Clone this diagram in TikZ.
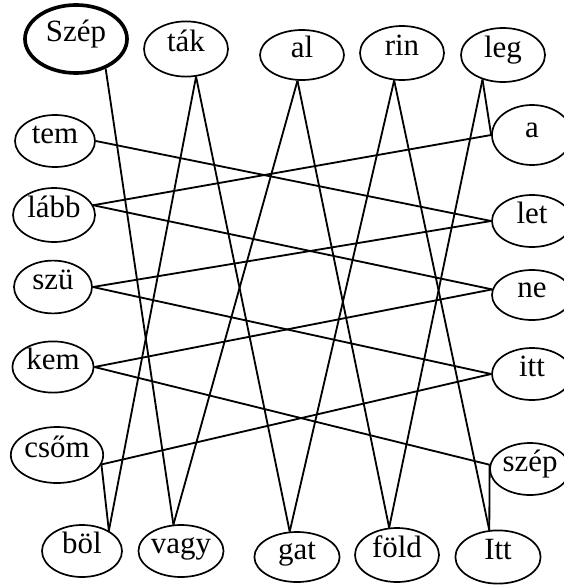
\documentclass[tikz,border=0pt]{standalone}
\usepackage{fontspec}
\setmainfont{Liberation Serif}
\usetikzlibrary{shapes.geometric}

\begin{document}
\begin{tikzpicture}[x=0.025cm,y=-0.025cm,
  every node/.style={font=\fontsize{22}{25}\selectfont},
  syl/.style={ellipse,draw,line width=1.2pt,inner sep=0pt,
    text height=0.42cm,text depth=0.32cm,
    minimum width=2.1cm,minimum height=1.33cm},
  link/.style={line width=1.3pt}]
\useasboundingbox (0,0) rectangle (564,585);
% top row
\node[syl,line width=2.6pt,minimum width=2.55cm,minimum height=1.7cm] (szep) at (76,39) {Szép};
\node[syl,minimum height=1.38cm] (tak) at (186,49) {ták};
\node[syl,minimum height=1.25cm] (al) at (302,55) {al};
\node[syl,minimum height=1.35cm] (rin) at (402,53) {rin};
\node[syl,minimum height=1.35cm] (leg) at (503,55) {leg};
% left column
\node[syl,minimum width=2cm,minimum height=1.3cm] (tem) at (55,141) {tem};
\node[syl,minimum width=2.05cm,minimum height=1.35cm] (labb) at (54,215) {lább};
\node[syl,minimum width=1.95cm,minimum height=1.32cm] (szu) at (53,287) {szü};
\node[syl,minimum width=2.03cm,minimum height=1.28cm] (kem) at (53,367) {kem};
\node[syl,minimum width=2.28cm,minimum height=1.4cm] (csom) at (57,455) {csőm};
% right column
\node[syl,minimum width=2cm,minimum height=1.5cm] (a) at (532,135) {a};
\node[syl,minimum width=2cm,minimum height=1.3cm] (let) at (532,221) {let};
\node[syl,minimum width=2cm,minimum height=1.25cm] (ne) at (532,295) {ne};
\node[syl,minimum width=2cm,minimum height=1.3cm] (itt) at (532,374) {itt};
\node[syl,minimum width=2cm,minimum height=1.3cm] (szep2) at (530,469) {szép};
% bottom row
\node[syl,minimum width=2cm,minimum height=1.3cm] (bol) at (82,551) {böl};
\node[syl,minimum height=1.3cm] (vagy) at (181,551) {vagy};
\node[syl,minimum width=2.13cm,minimum height=1.25cm] (gat) at (297,557) {gat};
\node[syl,minimum height=1.35cm] (fold) at (397,555) {föld};
\node[syl,minimum width=2.13cm,minimum height=1.33cm] (Itt) at (498,557) {Itt};
% the chain of syllables
\draw[link] (szep.-45) -- (vagy.106);
\draw[link] (vagy.106) -- (al.-100);
\draw[link] (al.-100) -- (fold.106);
\draw[link] (fold.106) -- (leg.-130);
\draw[link] (leg.-130) -- (a.west);
\draw[link] (a.west) -- (labb.14);
\draw[link] (labb.14) -- (ne.172);
\draw[link] (ne.172) -- (kem.east);
\draw[link] (kem.east) -- (szep2.174);
\draw[link] (szep2.174) -- (Itt.108);
\draw[link] (Itt.108) -- (rin.-106);
\draw[link] (rin.-106) -- (gat.106);
\draw[link] (gat.106) -- (tak.-70);
\draw[link] (tak.-70) -- (bol.37);
\draw[link] (bol.37) -- (csom.-12);
\draw[link] (csom.-12) -- (itt.west);
\draw[link] (itt.west) -- (szu.east);
\draw[link] (szu.east) -- (let.west);
\draw[link] (let.west) -- (tem.east);
\end{tikzpicture}
\end{document}
